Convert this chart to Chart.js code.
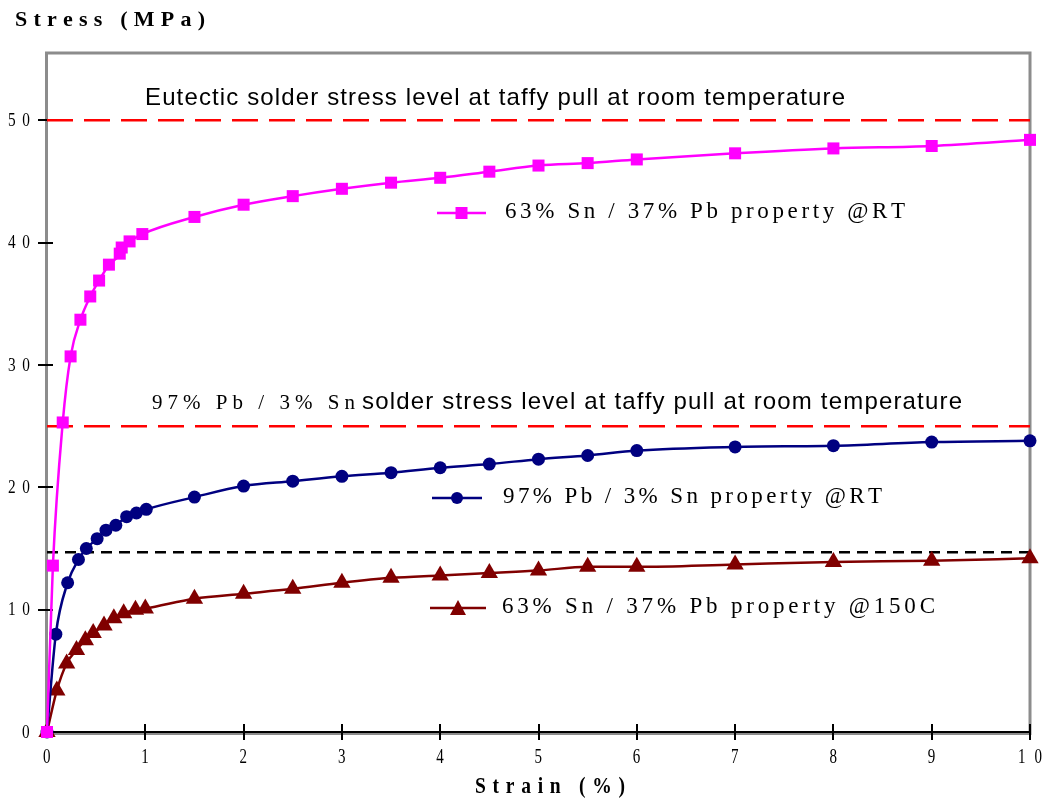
<!DOCTYPE html>
<html>
<head>
<meta charset="utf-8">
<title>Solder stress-strain curves</title>
<script src="https://cdn.jsdelivr.net/npm/chart.js@4/dist/chart.umd.min.js"></script>
<style>
  html, body { margin: 0; padding: 0; background: #ffffff; }
  canvas { display: block; }
</style>
</head>
<body>
<canvas id="chart" width="1053" height="798"></canvas>
<script>
// ---- Data: strain (%) and stress (MPa) for each alloy ----
const snPbRTStrain = [0, 0.06, 0.16, 0.24, 0.34, 0.44, 0.53, 0.63, 0.74, 0.76, 0.84, 0.97, 1.5, 2, 2.5, 3, 3.5, 4, 4.5, 5, 5.5, 6, 7, 8, 9, 10];
const snPbRTStress = [0, 13.6, 25.3, 30.7, 33.7, 35.6, 36.9, 38.2, 39.1, 39.6, 40.1, 40.7, 42.1, 43.1, 43.8, 44.4, 44.9, 45.3, 45.8, 46.3, 46.5, 46.8, 47.3, 47.7, 47.9, 48.4];

const pbSnRTStrain = [0, 0.09, 0.21, 0.32, 0.40, 0.51, 0.60, 0.70, 0.81, 0.91, 1.01, 1.5, 2, 2.5, 3, 3.5, 4, 4.5, 5, 5.5, 6, 7, 8, 9, 10];
const pbSnRTStress = [0, 8.0, 12.2, 14.1, 15.0, 15.8, 16.5, 16.9, 17.6, 17.9, 18.2, 19.2, 20.1, 20.5, 20.9, 21.2, 21.6, 21.9, 22.3, 22.6, 23.0, 23.3, 23.4, 23.7, 23.8];

const snPb150Strain = [0, 0.1, 0.2, 0.3, 0.39, 0.47, 0.58, 0.68, 0.78, 0.9, 1.0, 1.5, 2, 2.5, 3, 3.5, 4, 4.5, 5, 5.5, 6, 7, 8, 9, 10];
const snPb150Stress = [0, 3.4, 5.6, 6.7, 7.5, 8.1, 8.7, 9.3, 9.7, 10.0, 10.1, 10.9, 11.3, 11.7, 12.2, 12.6, 12.8, 13.0, 13.2, 13.5, 13.5, 13.7, 13.9, 14.0, 14.2];

// Reference stress levels (MPa)
const eutecticLevel = 50;
const highPbLevel = 25;
const hotLevel = 14.7;
const levelSpan = [0, 10];

// Axis ticks
const xTicks = [0, 1, 2, 3, 4, 5, 6, 7, 8, 9, 10];
const yTicks = [0, 10, 20, 30, 40, 50];

// Series names
const seriesNames = [
  '63% Sn / 37% Pb property @RT',
  '97% Pb / 3% Sn property @RT',
  '63% Sn / 37% Pb property @150C'
];
const xTitle = 'Strain (%)';
const yTitle = 'Stress (MPa)';
const eutecticNote = 'Eutectic solder stress level at taffy pull at room temperature';
const highPbNoteAlloy = '97% Pb / 3% Sn';
const highPbNoteText = 'solder stress level at taffy pull at room temperature';

const toPoints = (xs, ys) => xs.map((x, i) => ({ x: x, y: ys[i] }));
const levelPoints = (v) => levelSpan.map(x => ({ x: x, y: v }));

const MAGENTA = '#ff00ff';
const NAVY = '#000080';
const MAROON = '#800000';

// Draws text with evenly stretched character spacing to a given width
function spacedText(ctx, text, x, y, font, width, align, sx) {
  ctx.font = font;
  const k = sx || 1;
  const widths = Array.from(text).map(c => ctx.measureText(c).width * k);
  const natural = widths.reduce((a, b) => a + b, 0);
  const n = widths.length;
  const gap = n > 1 ? (width - natural) / (n - 1) : 0;
  let cx = x;
  if (align === 'center') cx = x - width / 2;
  else if (align === 'right') cx = x - width;
  ctx.textAlign = 'left';
  Array.from(text).forEach((c, i) => {
    ctx.save();
    ctx.translate(cx, y);
    ctx.scale(k, 1);
    ctx.fillText(c, 0, 0);
    ctx.restore();
    cx += widths[i] + gap;
  });
}

function drawMarker(ctx, style, x, y, color) {
  ctx.fillStyle = color;
  ctx.beginPath();
  if (style === 'rect') {
    ctx.rect(x - 6, y - 6, 12, 12);
  } else if (style === 'circle') {
    ctx.arc(x, y, 6, 0, Math.PI * 2);
  } else {
    ctx.moveTo(x, y - 8);
    ctx.lineTo(x + 8, y + 7);
    ctx.lineTo(x - 8, y + 7);
    ctx.closePath();
  }
  ctx.fill();
}

const framePlugin = {
  id: 'frame',
  beforeDatasetsDraw(chart) {
    const { ctx, chartArea: a, scales } = chart;
    const xs = scales.x, ys = scales.y;
    ctx.save();
    // plot frame
    ctx.strokeStyle = '#8c8c8c';
    ctx.lineWidth = 3;
    ctx.strokeRect(a.left - 0.5, a.top, a.right - a.left + 0.5, a.bottom - a.top + 1.5);
    // x axis line
    ctx.strokeStyle = '#000000';
    ctx.lineWidth = 2;
    ctx.beginPath();
    ctx.moveTo(a.left, a.bottom);
    ctx.lineTo(a.right, a.bottom);
    ctx.stroke();
    // tick marks
    ctx.lineWidth = 2;
    yTicks.forEach(v => {
      if (v === 0) return;
      const py = Math.round(ys.getPixelForValue(v));
      ctx.beginPath();
      ctx.moveTo(a.left - 9, py);
      ctx.lineTo(a.left + 6, py);
      ctx.stroke();
    });
    xTicks.forEach(v => {
      if (v === 0) return;
      const px = Math.round(xs.getPixelForValue(v));
      ctx.beginPath();
      ctx.moveTo(px, a.bottom - 8);
      ctx.lineTo(px, a.bottom + 8);
      ctx.stroke();
    });
    ctx.restore();
  },
  afterDraw(chart) {
    const { ctx, scales } = chart;
    const xs = scales.x, ys = scales.y;
    ctx.save();
    ctx.fillStyle = '#000000';
    ctx.textBaseline = 'middle';

    // tick labels
    yTicks.forEach(v => {
      const s = String(v);
      const py = ys.getPixelForValue(v);
      spacedText(ctx, s, 30, py + 1, '18px "Liberation Serif"', s.length > 1 ? 22 : 8, 'right', 0.85);
    });
    xTicks.forEach(v => {
      const s = String(v);
      const px = xs.getPixelForValue(v);
      spacedText(ctx, s, px, 758, '20px "Liberation Serif"', s.length > 1 ? 24 : 8, 'center', 0.75);
    });

    // axis titles
    ctx.textBaseline = 'alphabetic';
    spacedText(ctx, yTitle, 15, 26, 'bold 22px "Liberation Serif"', 190, 'left');
    spacedText(ctx, xTitle, 550, 793, 'bold 23px "Liberation Serif"', 150, 'center', 0.85);

    // reference level notes
    spacedText(ctx, eutecticNote, 145, 105, '24px "Liberation Sans"', 700, 'left');
    spacedText(ctx, highPbNoteAlloy, 152, 409, '21px "Liberation Serif"', 203, 'left');
    spacedText(ctx, highPbNoteText, 362, 409, '24px "Liberation Sans"', 600, 'left');

    // series keys
    const keys = [
      { name: seriesNames[0], color: MAGENTA, marker: 'rect', x0: 437, x1: 486, y: 213, tx: 505, tw: 400 },
      { name: seriesNames[1], color: NAVY, marker: 'circle', x0: 432, x1: 482, y: 498, tx: 503, tw: 379 },
      { name: seriesNames[2], color: MAROON, marker: 'triangle', x0: 430, x1: 486, y: 608, tx: 502, tw: 433 }
    ];
    keys.forEach(k => {
      ctx.strokeStyle = k.color;
      ctx.lineWidth = 2.5;
      ctx.beginPath();
      ctx.moveTo(k.x0, k.y);
      ctx.lineTo(k.x1, k.y);
      ctx.stroke();
      drawMarker(ctx, k.marker, (k.x0 + k.x1) / 2, k.y, k.color);
      ctx.fillStyle = '#000000';
      ctx.textBaseline = 'middle';
      spacedText(ctx, k.name, k.tx, k.y - 1, '23px "Liberation Serif"', k.tw, 'left');
    });
    ctx.restore();
  }
};

const seriesStyle = (color, marker, radius) => ({
  borderColor: color,
  backgroundColor: color,
  pointBackgroundColor: color,
  pointBorderColor: color,
  pointBorderWidth: 0,
  pointStyle: marker,
  pointRadius: radius,
  borderWidth: 2.5,
  showLine: true,
  cubicInterpolationMode: 'monotone',
  clip: false
});

const levelStyle = (color, dash, width) => ({
  borderColor: color,
  borderWidth: width,
  borderDash: dash,
  pointRadius: 0,
  showLine: true,
  fill: false
});

new Chart(document.getElementById('chart').getContext('2d'), {
  type: 'scatter',
  data: {
    datasets: [
      Object.assign({ label: seriesNames[0], data: toPoints(snPbRTStrain, snPbRTStress) }, seriesStyle(MAGENTA, 'rect', 8.5)),
      Object.assign({ label: seriesNames[1], data: toPoints(pbSnRTStrain, pbSnRTStress) }, seriesStyle(NAVY, 'circle', 6.5)),
      Object.assign({ label: seriesNames[2], data: toPoints(snPb150Strain, snPb150Stress) }, seriesStyle(MAROON, 'triangle', 10)),
      Object.assign({ label: 'eutectic level', data: levelPoints(eutecticLevel) }, levelStyle('#ff0000', [26, 11], 2.5)),
      Object.assign({ label: 'high-Pb level', data: levelPoints(highPbLevel) }, levelStyle('#ff0000', [26, 11], 2.5)),
      Object.assign({ label: 'hot level', data: levelPoints(hotLevel) }, levelStyle('#000000', [11, 7], 2.5))
    ]
  },
  options: {
    responsive: false,
    animation: false,
    layout: { padding: { left: 47, right: 23, top: 53, bottom: 66 } },
    plugins: { legend: { display: false }, tooltip: { enabled: false } },
    scales: {
      x: { type: 'linear', min: 0, max: 10, display: false },
      y: { type: 'linear', min: 0, max: 55.5, display: false }
    }
  },
  plugins: [framePlugin]
});
</script>
</body>
</html>
